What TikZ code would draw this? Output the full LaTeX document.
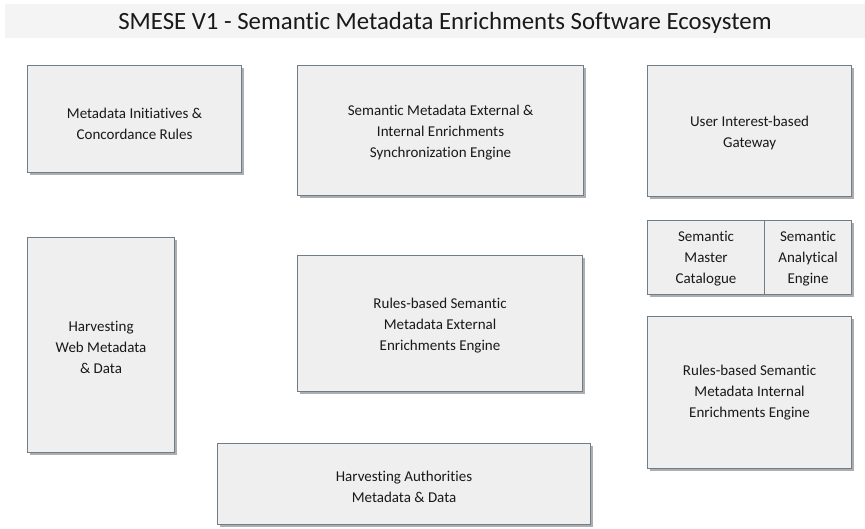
\documentclass[tikz,border=0pt]{standalone}
\usepackage{fontspec}
\setmainfont[Ligatures={NoCommon}]{Carlito}
\usetikzlibrary{shadows}
\definecolor{boxfill}{HTML}{EFEFEF}
\definecolor{boxline}{HTML}{6F7C8A}
\definecolor{titlebg}{HTML}{F4F4F4}
\begin{document}
\begin{tikzpicture}[x=1pt,y=-1pt,
  box/.style={draw=boxline, line width=1.1pt, fill=boxfill, inner sep=0pt, anchor=north west,
    drop shadow={shadow xshift=2pt, shadow yshift=-2pt, opacity=0.45, fill=black!70}},
  txt/.style={align=center, inner sep=0pt, font=\fontsize{15}{21}\selectfont, text=black!90}]
\useasboundingbox (0,0) rectangle (865,528);
\fill[titlebg] (5,4) rectangle (865,38);
\node[font=\fontsize{24.8}{28}\selectfont, text=black!90] (title) at (445,23) {SMESE V1 - Semantic Metadata Enrichments Software Ecosystem};
% boxes
\node[box, minimum width=214, minimum height=107] (mi) at (27,65) {};
\node[box, minimum width=286, minimum height=130] (sync) at (297,65) {};
\node[box, minimum width=204, minimum height=131] (gw) at (647,65) {};
\node[box, minimum width=147, minimum height=215] (hw) at (27,237) {};
\node[box, minimum width=285, minimum height=136] (ext) at (297,255) {};
\node[box, minimum width=117, minimum height=74] (cat) at (647,220) {};
\node[box, minimum width=87, minimum height=74] (ana) at (764,220) {};
\node[box, minimum width=204, minimum height=152] (int) at (647,316) {};
\node[box, minimum width=373, minimum height=81] (ha) at (217,443) {};
% texts
\node[txt] (mit) at ([yshift=-4.5pt]mi.center) {Metadata Initiatives \&\\Concordance Rules};
\node[txt] (synct) at ([yshift=-2pt]sync.center) {Semantic Metadata External \&\\Internal Enrichments\\Synchronization Engine};
\node[txt] (gwt) at ([yshift=-1.5pt]gw.center) {User Interest-based\\Gateway};
\node[txt] (hwt) at ([yshift=-2.5pt]hw.center) {Harvesting\\Web Metadata\\\& Data};
\node[txt] (extt) at ([yshift=-2pt]ext.center) {Rules-based Semantic\\Metadata External\\Enrichments Engine};
\node[txt] (catt) at ([yshift=-1pt]cat.center) {Semantic\\Master\\Catalogue};
\node[txt] (anat) at ([yshift=-1pt]ana.center) {Semantic\\Analytical\\Engine};
\node[txt] (intt) at (int.center) {Rules-based Semantic\\Metadata Internal\\Enrichments Engine};
\node[txt] (hat) at ([yshift=-3pt]ha.center) {Harvesting Authorities\\Metadata \& Data};
\end{tikzpicture}
\end{document}
